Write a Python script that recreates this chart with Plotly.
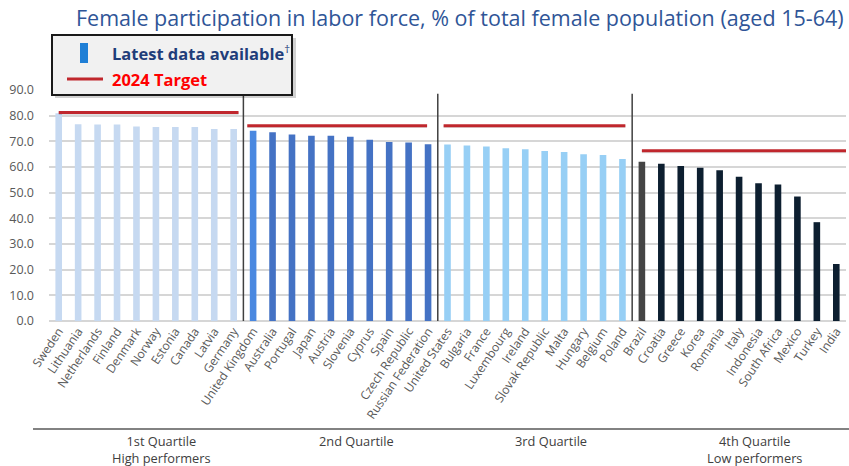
import plotly.graph_objects as go

# ---------------- data ----------------
countries = [
    "Sweden", "Lithuania", "Netherlands", "Finland", "Denmark", "Norway", "Estonia", "Canada", "Latvia", "Germany",
    "United Kingdom", "Australia", "Portugal", "Japan", "Austria", "Slovenia", "Cyprus", "Spain", "Czech Republic", "Russian Federation",
    "United States", "Bulgaria", "France", "Luxembourg", "Ireland", "Slovak Republic", "Malta", "Hungary", "Belgium", "Poland",
    "Brazil", "Croatia", "Greece", "Korea", "Romania", "Italy", "Indonesia", "South Africa", "Mexico", "Turkey", "India",
]
participation = [
    80.9, 76.7, 76.6, 76.6, 75.8, 75.6, 75.6, 75.6, 74.8, 74.8,
    74.1, 73.5, 72.7, 72.2, 72.2, 71.8, 70.6, 69.7, 69.5, 68.9,
    68.8, 68.4, 68.0, 67.3, 66.9, 66.2, 65.8, 65.0, 64.7, 63.1,
    62.0, 61.3, 60.4, 59.7, 58.7, 56.2, 53.7, 53.2, 48.5, 38.5, 22.2,
]
quartile_labels = ["1st Quartile<br>High performers", "2nd Quartile", "3rd Quartile", "4th Quartile<br>Low performers"]
quartile_sizes = [10, 10, 10, 11]
target_2024 = [81.2, 76.1, 76.1, 66.3]
# span of each target line, in category-index units
target_start = [0.0, 9.7, 19.8, 30.0]
target_end = [9.25, 18.95, 29.15, 41.0]
y_ticks = [0, 10, 20, 30, 40, 50, 60, 70, 80, 90]

# ---------------- styles ----------------
group_colors = ["#c6d9f1", "#4472c4", "#97cff5", "#0d1f30"]
first_bar_colors = ["#c6d9f1", "#4a88e0", "#97cff5", "#444444"]
bar_colors = []
for g, n in enumerate(quartile_sizes):
    bar_colors += [first_bar_colors[g]] + [group_colors[g]] * (n - 1)

W, H = 849, 466
L, R, T, B = 49, 3, 90, 145
pw, ph = W - L - R, H - T - B


def px(x):
    return (x - L) / pw


def py(y):
    return (H - B - y) / ph


fig = go.Figure()
fig.add_trace(go.Bar(
    x=countries, y=participation, marker_color=bar_colors,
    marker_line_width=0, showlegend=False,
    hovertemplate="%{x}: %{y:.1f}<extra></extra>",
))

shapes = []
# target lines with soft shadow
for v, s, e in zip(target_2024, target_start, target_end):
    shapes.append(dict(type="line", xref="x", yref="y", x0=s, x1=e, y0=v - 0.35, y1=v - 0.35,
                       line=dict(color="rgba(0,0,0,0.12)", width=3)))
    shapes.append(dict(type="line", xref="x", yref="y", x0=s, x1=e, y0=v, y1=v,
                       line=dict(color="#c0272d", width=3)))

# group dividers
pos = 0
for n in quartile_sizes[:-1]:
    pos += n
    shapes.append(dict(type="line", xref="x", yref="y", x0=pos - 0.5, x1=pos - 0.5, y0=0, y1=88.5,
                       line=dict(color="#404040", width=1.5)))

# bottom separator line
shapes.append(dict(type="line", xref="paper", yref="paper", x0=px(33), x1=px(849), y0=py(429), y1=py(429),
                   line=dict(color="#595959", width=1.5)))

# legend box (shadow + box)
shapes.append(dict(type="rect", xref="paper", yref="paper", x0=px(55), x1=px(296), y0=py(98), y1=py(38),
                   line=dict(width=0), fillcolor="rgba(0,0,0,0.18)", layer="above"))
shapes.append(dict(type="rect", xref="paper", yref="paper", x0=px(52), x1=px(292), y0=py(95), y1=py(35),
                   line=dict(color="#1a1a1a", width=2), fillcolor="#f1f1f1", layer="above"))
shapes.append(dict(type="rect", xref="paper", yref="paper", x0=px(80), x1=px(88), y0=py(63), y1=py(43),
                   line=dict(width=0), fillcolor="#1f7fd6", layer="above"))
shapes.append(dict(type="line", xref="paper", yref="paper", x0=px(67), x1=px(103), y0=py(79), y1=py(79),
                   line=dict(color="#c0272d", width=3), layer="above"))

annotations = [
    dict(text="Female participation in labor force, % of total female population (aged 15-64)",
         xref="paper", yref="paper", x=px(846), y=py(18), xanchor="right", yanchor="middle",
         showarrow=False, font=dict(family="Open Sans", size=21.5, color="#2f5597")),
    dict(text="<b>Latest data available</b><sup>†</sup>", xref="paper", yref="paper", x=px(110), y=py(53),
         xanchor="left", yanchor="middle", showarrow=False,
         font=dict(family="Open Sans", size=16.5, color="#1f3d7a")),
    dict(text="<b>2024 Target</b>", xref="paper", yref="paper", x=px(110), y=py(80),
         xanchor="left", yanchor="middle", showarrow=False,
         font=dict(family="Open Sans", size=16.5, color="#ff0000")),
]
start = 0
for lab, n in zip(quartile_labels, quartile_sizes):
    center = start + (n - 1) / 2 + 0.8
    annotations.append(dict(text=lab, xref="x", yref="paper", x=center, y=py(430),
                            xanchor="center", yanchor="top", showarrow=False,
                            font=dict(family="Open Sans", size=12.8, color="#404040")))
    start += n

fig.update_layout(
    width=W, height=H,
    margin=dict(l=L, r=R, t=T, b=B),
    paper_bgcolor="white", plot_bgcolor="white",
    bargap=0.66,
    shapes=shapes, annotations=annotations,
    font=dict(family="Open Sans", color="#595959"),
    xaxis=dict(range=[-0.5, len(countries) - 0.5], tickangle=-56, showgrid=False,
               tickfont=dict(family="Open Sans", size=12, color="#595959"),
               showline=False, ticks="", automargin=False),
    yaxis=dict(range=[0, 90], tickvals=y_ticks, ticktext=[f"{v:.1f}" for v in y_ticks],
               showgrid=True, gridcolor="#d6d6d6", gridwidth=2, zeroline=True,
               zerolinecolor="#d6d6d6", zerolinewidth=2, ticklabelstandoff=14,
               tickfont=dict(family="Open Sans", size=12.5, color="#595959"),
               automargin=False),
)

fig.write_html("out.html", config={"displayModeBar": False},
               post_script="document.body.style.margin='0px';document.body.style.overflow='hidden';")
